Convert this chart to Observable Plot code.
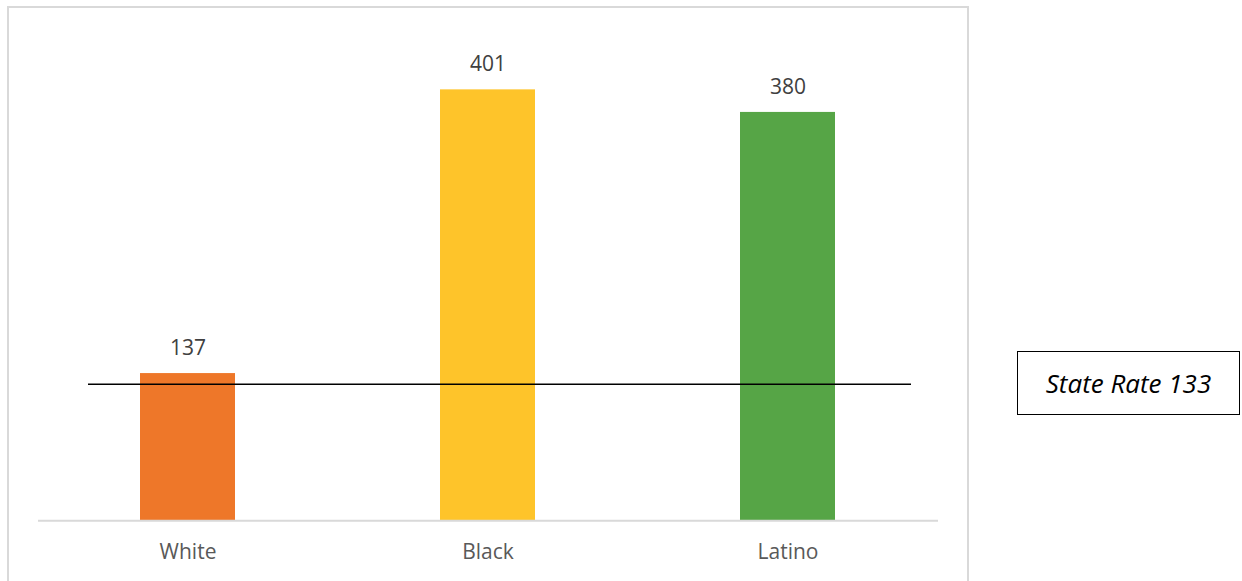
<!DOCTYPE html>
<html>
<head>
<meta charset="utf-8">
<script src="https://cdn.jsdelivr.net/npm/d3@7"></script>
<script src="https://cdn.jsdelivr.net/npm/@observablehq/plot@0.6"></script>
<style>
  html, body { margin: 0; padding: 0; background: #fff; }
  #wrap { position: relative; width: 1242px; height: 581px; overflow: hidden; font-family: "Open Sans", sans-serif; }
  #border { position: absolute; left: 7px; top: 6px; width: 958px; height: 600px; border: 2px solid #d9d9d9; box-sizing: content-box; }
  #legend { position: absolute; left: 1017px; top: 351px; width: 221px; height: 62px; border: 1.5px solid #000;
            display: flex; align-items: center; justify-content: center; font-style: italic; font-size: 26px; color: #000; box-sizing: content-box; }
  #chart { position: absolute; left: 0; top: 0; }
</style>
</head>
<body>
<div id="wrap">
  <div id="border"></div>
  <div id="chart"></div>
  <div id="legend"></div>
</div>
<script>
const categories = ["White", "Black", "Latino"];
const values = [137, 401, 380];
const colors = ["#EE7729", "#FEC42A", "#56A546"];
const stateRate = 133;        // label value
const stateRateLine = 127;    // line as drawn in the reference

const data = categories.map((c, i) => ({category: c, value: values[i], color: colors[i]}));

document.getElementById("legend").textContent = "State Rate " + stateRate;

const chart = Plot.plot({
  width: 1242,
  height: 581,
  marginLeft: 38,
  marginRight: 304,
  marginTop: 36.7,
  marginBottom: 60.7,
  style: {background: "transparent", fontFamily: "Open Sans, sans-serif"},
  x: {domain: categories, paddingInner: 0.683, paddingOuter: 0.3415, axis: null},
  y: {domain: [0, 450], axis: null},
  marks: [
    Plot.barY(data, {x: "category", y: "value", fill: "color"}),
    Plot.ruleY([0], {stroke: "#d9d9d9", strokeWidth: 2}),
    Plot.ruleY([stateRateLine], {stroke: "#000", strokeWidth: 1.5, insetLeft: 50, insetRight: 27}),
    Plot.text(data, {x: "category", y: "value", text: d => String(d.value), dy: -25.5, lineAnchor: "middle",
      fill: "#404040", fontSize: 21}),
    Plot.text(data, {x: "category", text: "category", frameAnchor: "bottom", dy: 31, lineAnchor: "middle",
      fill: "#595959", fontSize: 21})
  ]
});
document.getElementById("chart").appendChild(chart);
</script>
</body>
</html>
